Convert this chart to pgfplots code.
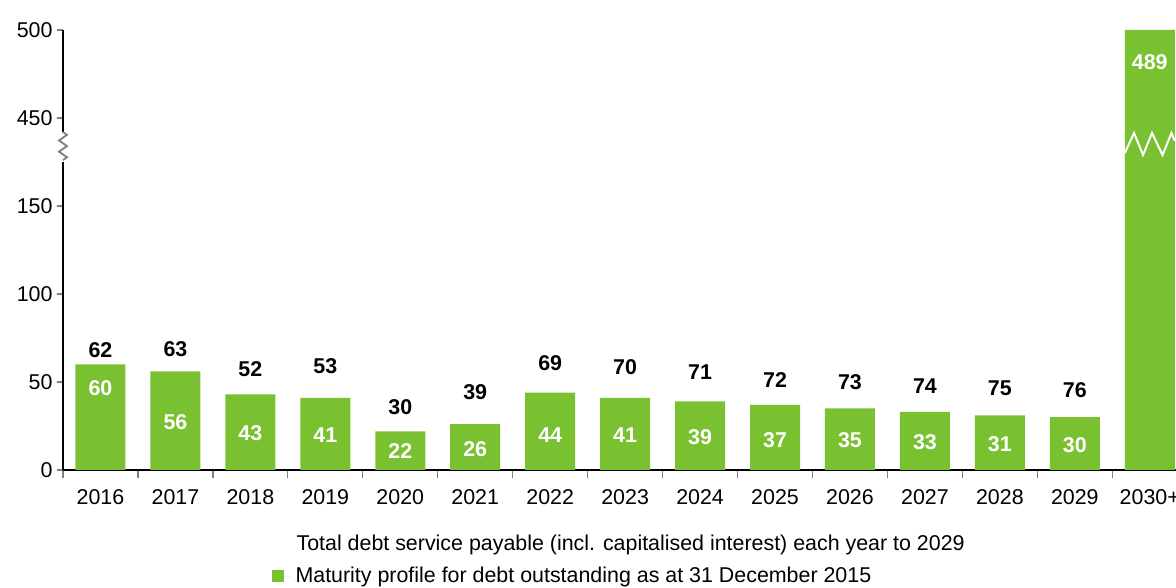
\documentclass[border=0pt]{standalone}
\usepackage{pgfplots}
\pgfplotsset{compat=1.18}
\usetikzlibrary{calc}
\usepackage{fontspec}
\setmainfont{Liberation Sans}
\definecolor{barGreen}{RGB}{122,193,49}

\begin{document}
\begin{tikzpicture}
\fontsize{10.7}{12.8}\selectfont
\begin{axis}[
    scale only axis,
    width=556.5pt, height=220pt,
    at={(31.5pt,59pt)}, anchor=south west,
    clip=false,
    xmin=-0.5, xmax=14.35,
    ymin=0, ymax=250,
    axis x line*=bottom, axis y line*=left,
    axis line style={black, line width=0.6pt},
    xtick={0,...,14},
    xticklabels={2016,2017,2018,2019,2020,2021,2022,2023,2024,2025,2026,2027,2028,2029,2030+},
    major x tick style={draw=none},
    minor xtick={-0.5,0.5,...,13.5},
    minor x tick style={gray, line width=0.6pt},
    minor tick length=4pt,
    ytick={0,50,100,150,200,250},
    yticklabels={0,50,100,150,450,500},
    y tick style={gray, line width=0.6pt},
    major tick length=3pt,
    tick align=outside,
    tick label style={font=\fontsize{10.7}{12.8}\selectfont},
    xticklabel style={yshift=-3pt},
    yticklabel style={xshift=1.5pt},
    /pgf/number format/assume math mode=true,
    xlabel={Total debt service payable (incl. capitalised interest) each year to 2029},
    xlabel style={at={(axis description cs:0.51,-0.17)}, anchor=center, font=\fontsize{10.7}{12.8}\selectfont},
    legend style={draw=none, fill=none, at={(axis description cs:0.187,-0.241)}, anchor=west,
        inner sep=0pt, font=\fontsize{10.7}{12.8}\selectfont},
    legend cell align=left,
    legend image code/.code={\fill[barGreen] (0pt,-3pt) rectangle (6pt,3pt); \path (0pt,0pt) -- (10pt,0pt);},
]
% maturity profile (2030+ shown broken at the top of the axis)
\addplot[ybar, bar width=0.667, fill=barGreen, draw=none] coordinates {
    (0,60) (1,56) (2,43) (3,41) (4,22) (5,26) (6,44) (7,41)
    (8,39) (9,37) (10,35) (11,33) (12,31) (13,30) (14,250)
};
\addlegendentry{Maturity profile for debt outstanding as at 31 December 2015}

% values inside bars
\addplot[draw=none, mark=none, forget plot, nodes near coords, point meta=explicit symbolic,
    every node near coord/.append style={anchor=center, text=white, font=\bfseries\fontsize{10.7}{12.8}\selectfont}]
    table[meta=lab] {
x y lab
0 46.6 60
1 27.3 56
2 21.0 43
3 19.9 41
4 10.8 22
5 11.9 26
6 19.9 44
7 19.9 41
8 18.7 39
9 17.0 37
10 17.0 35
11 15.9 33
12 14.8 31
13 14.2 30
14 231.8 489
};

% total debt service labels
\addplot[draw=none, mark=none, forget plot, nodes near coords, point meta=explicit symbolic,
    every node near coord/.append style={anchor=center, text=black, font=\bfseries\fontsize{10.7}{12.8}\selectfont}]
    table[meta=lab] {
x y lab
0 68.2 62
1 68.7 63
2 57.4 52
3 59.1 53
4 35.8 30
5 44.3 39
6 60.8 69
7 58.5 70
8 55.7 71
9 51.1 72
10 50.0 73
11 47.7 74
12 46.6 75
13 45.5 76
};

\coordinate (brkTop) at (axis cs:-0.5,192);
\coordinate (brkBot) at (axis cs:-0.5,175);
\draw[white, line width=1pt] (axis cs:13.667,180.1) -- (axis cs:13.79,191.5) -- (axis cs:13.91,179)
    -- (axis cs:14.03,191.5) -- (axis cs:14.17,179) -- (axis cs:14.29,191.5) -- (axis cs:14.333,187);
\end{axis}
% axis break mark on the y axis
\fill[white] ($(brkBot)+(-1.5pt,0)$) rectangle ($(brkTop)+(1.5pt,0)$);
\draw[gray, line width=0.9pt, line join=miter] (brkTop) -- ++(2pt,-1.4pt) -- ++(-4pt,-2.8pt) -- ++(4pt,-2.8pt)
    -- ++(-4pt,-2.8pt) -- ++(4pt,-2.8pt) -- ++(-2pt,-1.4pt);
\pgfresetboundingbox
\path[use as bounding box] (0,0) rectangle (588pt,294pt);
\end{tikzpicture}
\end{document}
